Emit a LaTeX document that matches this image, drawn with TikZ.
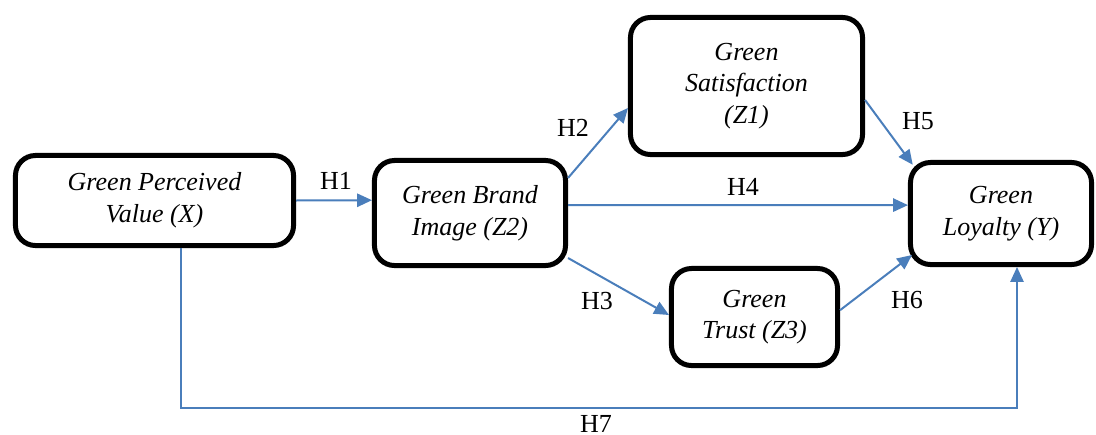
\documentclass[tikz,border=0pt]{standalone}
\usepackage{fontspec}
\setmainfont{Liberation Serif}
\usepackage{xcolor}
\usetikzlibrary{arrows.meta}

\definecolor{linkblue}{HTML}{4A7EBB}

\begin{document}
\begin{tikzpicture}[x=0.025cm, y=-0.025cm,
    varbox/.style={draw, rectangle, rounded corners=0.5cm, line width=0.125cm,
      align=center, font=\fontsize{18.5}{22.5}\selectfont\itshape, inner sep=0pt},
    link/.style={draw=linkblue, line width=0.05cm,
      -{Triangle[length=0.37cm, width=0.33cm]}},
    hlabel/.style={font=\fontsize{18.5}{22.5}\selectfont, inner sep=0pt}]
  \useasboundingbox (0,0) rectangle (1096,434);

  % variables
  \node[varbox, minimum width=6.95cm, minimum height=2.25cm] (x) at (154.5,200.5) {Green Perceived\\Value (X)};
  \node[varbox, minimum width=4.775cm, minimum height=2.625cm] (z2) at (470,213) {Green Brand\\Image (Z2)};
  \node[varbox, minimum width=5.8cm, minimum height=3.425cm] (z1) at (746.5,86) {Green\\Satisfaction\\(Z1)};
  \node[varbox, minimum width=4.15cm, minimum height=2.425cm] (z3) at (754.5,317) {Green\\Trust (Z3)};
  \node[varbox, minimum width=4.525cm, minimum height=2.55cm] (y) at (1001,213.5) {Green\\Loyalty (Y)};

  % hypotheses
  \draw[link] (x.east) -- ([yshift=0.32cm]z2.west);
  \draw[link] ([yshift=0.875cm]z2.east) -- ([yshift=-0.55cm]z1.west);
  \draw[link] ([yshift=0.2cm]z2.east) -- ([yshift=0.21cm]y.west);
  \draw[link] ([yshift=-0.35cm]z1.east) -- ([shift={(0.12cm,-0.12cm)}]y.north west);
  \draw[link] ([yshift=-1.125cm]z2.east) -- ([yshift=0.05cm]z3.west);
  \draw[link] ([yshift=0.17cm]z3.east) -- ([shift={(0.1cm,0.3cm)}]y.south west);

  \coordinate (h7) at (600,408);
  \draw[link, line width=0.04cm] ([xshift=0.66cm]x.south) |- (h7) -| ([xshift=0.4cm]y.south);

  \node[hlabel] (lh1) at (336,181) {H1};
  \node[hlabel] (lh2) at (573,128) {H2};
  \node[hlabel] (lh3) at (597,301) {H3};
  \node[hlabel] (lh4) at (743,187) {H4};
  \node[hlabel] (lh5) at (918,121) {H5};
  \node[hlabel] (lh6) at (907,300) {H6};
  \node[hlabel] (lh7) at (596,424) {H7};

\end{tikzpicture}
\end{document}
